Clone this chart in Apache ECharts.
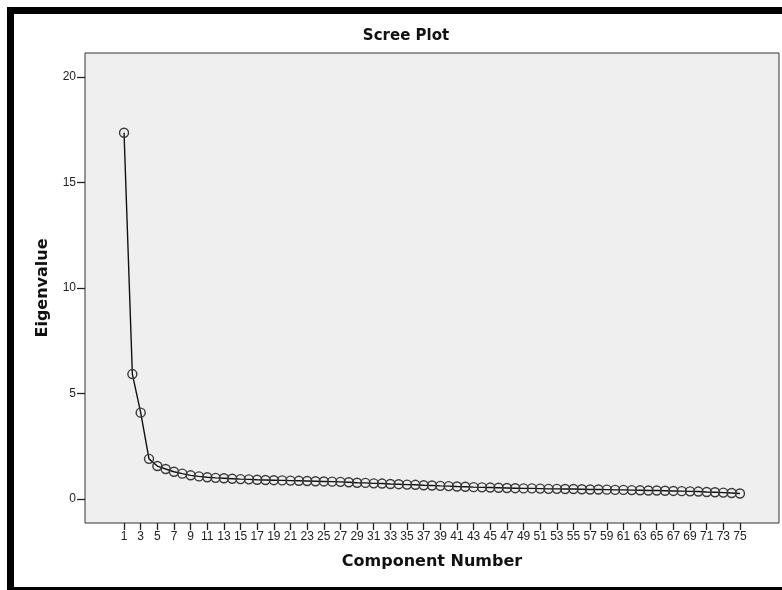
<!DOCTYPE html>
<html>
<head>
<meta charset="utf-8">
<title>Scree Plot</title>
<script src="https://cdn.jsdelivr.net/npm/echarts@6/dist/echarts.min.js"></script>
<style>
  html, body { margin: 0; padding: 0; background: #ffffff; }
  #chart { width: 782px; height: 590px; }
</style>
</head>
<body>
<div id="chart"></div>
<script>
// Component numbers 1..75
const components = Array.from({ length: 75 }, (_, i) => i + 1);

// Eigenvalue of each component, in order
const eigenvalues = [
  17.36, 5.92, 4.09, 1.90, 1.56, 1.42, 1.29, 1.20, 1.12, 1.07,
  1.03, 1.00, 0.98, 0.96, 0.94, 0.93, 0.91, 0.90, 0.89, 0.88,
  0.87, 0.86, 0.85, 0.84, 0.83, 0.82, 0.81, 0.79, 0.77, 0.76,
  0.74, 0.73, 0.71, 0.70, 0.68, 0.67, 0.65, 0.64, 0.62, 0.61,
  0.59, 0.58, 0.56, 0.55, 0.54, 0.53, 0.52, 0.51, 0.50, 0.50,
  0.49, 0.48, 0.48, 0.47, 0.47, 0.46, 0.45, 0.45, 0.44, 0.43,
  0.43, 0.42, 0.41, 0.40, 0.40, 0.39, 0.38, 0.37, 0.36, 0.35,
  0.33, 0.32, 0.30, 0.28, 0.26
];

// Tick positions
const xTicks = components.filter(n => n % 2 === 1);
const yTicks = [0, 5, 10, 15, 20];

const points = components.map((c, i) => [c, eigenvalues[i]]);

const chart = echarts.init(document.getElementById('chart'), null, { renderer: 'canvas' });

const axisFont = { fontFamily: 'Liberation Sans, Arial, sans-serif', fontSize: 12, color: '#222' };
const nameFont = { fontFamily: 'DejaVu Sans, Verdana, sans-serif', fontWeight: 'bold', fontSize: 16, color: '#111' };

chart.setOption({
  animation: false,
  backgroundColor: '#ffffff',
  title: {
    text: 'Scree Plot',
    left: 401,
    top: 24,
    textAlign: 'center',
    textStyle: { fontFamily: 'DejaVu Sans, Verdana, sans-serif', fontWeight: 'bold', fontSize: 15, color: '#111' }
  },
  grid: {
    left: 85, top: 53, right: 3, bottom: 67,
    show: true,
    backgroundColor: '#efefef',
    borderColor: '#333333',
    borderWidth: 1
  },
  xAxis: {
    type: 'value',
    min: -3.69,
    max: 79.69,
    name: 'Component Number',
    nameLocation: 'middle',
    nameGap: 31,
    nameTextStyle: nameFont,
    axisLine: { show: false, onZero: false },
    splitLine: { show: false },
    axisTick: {
      show: true, length: 7, inside: false,
      customValues: xTicks,
      lineStyle: { color: '#222', width: 1.3 }
    },
    axisLabel: {
      show: true, margin: 8,
      customValues: xTicks,
      ...axisFont
    }
  },
  yAxis: {
    type: 'value',
    min: -1.14,
    max: 21.14,
    name: 'Eigenvalue',
    nameLocation: 'middle',
    nameGap: 34,
    nameRotate: 90,
    nameTextStyle: nameFont,
    axisLine: { show: false, onZero: false },
    splitLine: { show: false },
    axisTick: {
      show: true, length: 8, inside: false,
      customValues: yTicks,
      lineStyle: { color: '#222', width: 1.3 }
    },
    axisLabel: {
      show: true, margin: 9,
      customValues: yTicks,
      ...axisFont
    }
  },
  series: [{
    type: 'line',
    data: points,
    symbol: 'circle',
    symbolSize: 9,
    showSymbol: true,
    lineStyle: { color: '#111', width: 1.4 },
    itemStyle: { color: 'rgba(0,0,0,0)', borderColor: '#3a3a3a', borderWidth: 1.4 },
    emphasis: { disabled: true }
  }],
  graphic: [
    { type: 'rect', shape: { x: 7, y: 7, width: 775, height: 7 }, style: { fill: '#000' }, silent: true },
    { type: 'rect', shape: { x: 7, y: 7, width: 7, height: 583 }, style: { fill: '#000' }, silent: true },
    { type: 'rect', shape: { x: 7, y: 587, width: 775, height: 3 }, style: { fill: '#000' }, silent: true }
  ]
});
</script>
</body>
</html>
